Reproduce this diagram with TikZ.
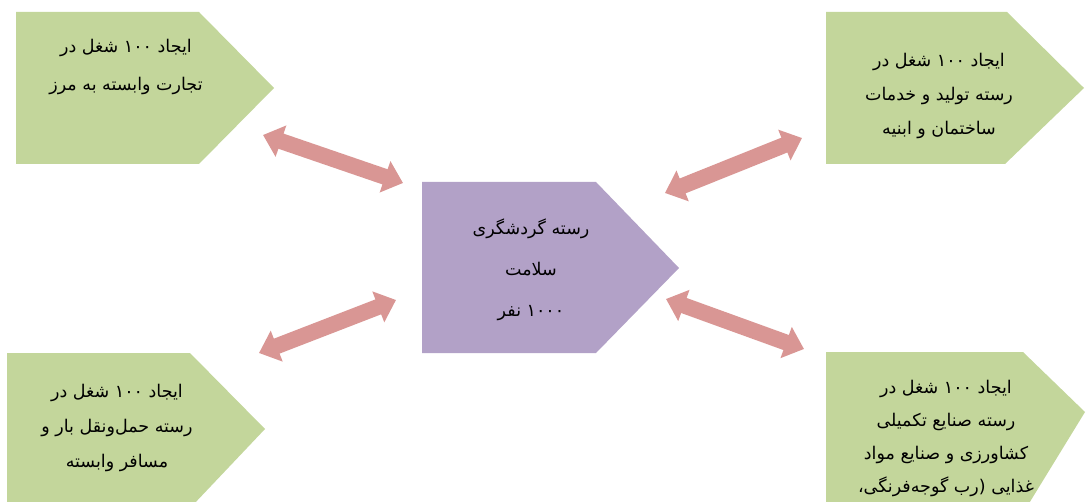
\documentclass[tikz,border=0pt]{standalone}
\usepackage{fontspec}
\usetikzlibrary{arrows.meta}
\newfontfamily\arfont[Script=Arabic]{DejaVu Sans}
\TeXXeTstate=1
\definecolor{boxgreen}{HTML}{C3D69B}
\definecolor{boxpurple}{HTML}{B2A1C7}
\definecolor{arrowpink}{HTML}{D99694}
\begin{document}
\begin{tikzpicture}[x=1pt,y=-1pt,
  greenbox/.style={fill=boxgreen},
  purplebox/.style={fill=boxpurple},
  linkarrow/.style={draw=arrowpink, line width=16pt, {Triangle[width=32pt,length=19pt]}-{Triangle[width=32pt,length=19pt]}},
  boxtext/.style={align=center, font={\arfont\fontsize{17.5}{37}\selectfont}, inner sep=0pt}]
\useasboundingbox (0,0) rectangle (1086,502);
\clip (0,0) rectangle (1086,502);
% shapes
\fill[greenbox] (16,12) -- (199,12) -- (274,88) -- (199,164) -- (16,164) -- cycle;
\fill[greenbox] (826,12) -- (1007,12) -- (1084,88) -- (1005,164) -- (826,164) -- cycle;
\fill[purplebox] (422,182) -- (596,182) -- (679,268) -- (596,353) -- (422,353) -- cycle;
\fill[greenbox] (7,353) -- (190,353) -- (265,429) -- (193,505) -- (7,505) -- cycle;
\fill[greenbox] (826,352) -- (1023,352) -- (1085,412) -- (1028,505) -- (826,505) -- cycle;
% texts
\node[boxtext, font={\arfont\fontsize{17.5}{38}\selectfont}] (tl) at (126,67) {\beginR ایجاد ۱۰۰ شغل در\endR\\\beginR تجارت وابسته به مرز\endR};
\node[boxtext, font={\arfont\fontsize{17.5}{34}\selectfont}] (tr) at (939,96) {\beginR ایجاد ۱۰۰ شغل در\endR\\\beginR رسته تولید و خدمات\endR\\\beginR ساختمان و ابنیه\endR};
\node[boxtext, font={\arfont\fontsize{17.5}{41}\selectfont}] (c) at (531,270) {\beginR رسته گردشگری\endR\\\beginR سلامت\endR\\\beginR ۱۰۰۰ نفر\endR};
\node[boxtext, font={\arfont\fontsize{17.5}{35}\selectfont}] (bl) at (117,428) {\beginR ایجاد ۱۰۰ شغل در\endR\\\beginR رسته حمل‌ونقل بار و\endR\\\beginR مسافر وابسته\endR};
\node[boxtext, font={\arfont\fontsize{17.5}{33}\selectfont}] (br) at (946,438) {\beginR ایجاد ۱۰۰ شغل در\endR\\\beginR رسته صنایع تکمیلی\endR\\\beginR کشاورزی و صنایع مواد\endR\\\beginR غذایی (رب گوجه‌فرنگی،\endR};
% arrow ends
\coordinate (a1s) at (263,135); \coordinate (a1e) at (403,183);
\coordinate (a2s) at (665,193); \coordinate (a2e) at (802,138);
\coordinate (a3s) at (259,353); \coordinate (a3e) at (396,300);
\coordinate (a4s) at (666,299); \coordinate (a4e) at (804,349);
\draw[linkarrow] (a1s) -- (a1e);
\draw[linkarrow] (a2s) -- (a2e);
\draw[linkarrow] (a3s) -- (a3e);
\draw[linkarrow] (a4s) -- (a4e);
\end{tikzpicture}
\end{document}
